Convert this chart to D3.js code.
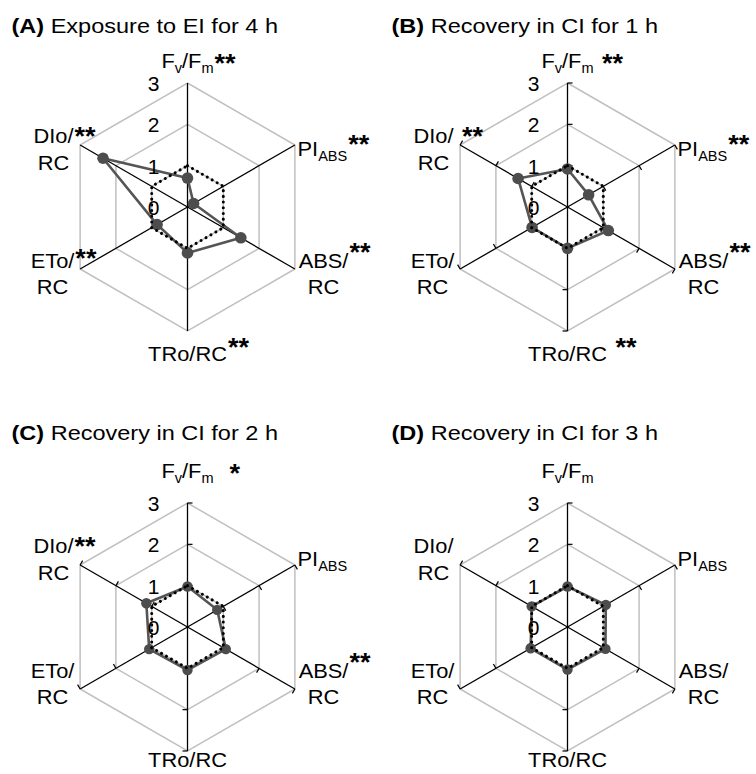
<!DOCTYPE html>
<html>
<head>
<meta charset="utf-8">
<script src="https://cdn.jsdelivr.net/npm/d3@7"></script>
<style>
  body { margin: 0; background: #fff; }
  svg { display: block; }
  text { font-family: "Liberation Sans", Arial, Helvetica, sans-serif; fill: #000; white-space: pre; }
</style>
</head>
<body>
<svg id="chart" width="756" height="774"></svg>
<script>
// Spokes of every radar, clockwise from the top ("_x" marks a subscript)
const axisLabels = [["F_v/F_m"], ["PI_ABS"], ["ABS/", "RC"], ["TRo/RC"], ["ETo/", "RC"], ["DIo/", "RC"]];

const panelLetters = ["(A)", "(B)", "(C)", "(D)"];
const panelTitles = ["Exposure to EI for 4 h", "Recovery in CI for 1 h", "Recovery in CI for 2 h", "Recovery in CI for 3 h"];

// Treated leaves, relative to control (= 1)
const treatedA = [0.70, 0.17, 1.49, 1.11, 0.85, 2.36];
const treatedB = [0.92, 0.59, 1.14, 1.00, 0.99, 1.38];
const treatedC = [0.98, 0.83, 1.07, 1.04, 1.07, 1.15];
const treatedD = [0.98, 1.07, 1.06, 1.03, 1.03, 1.00];
const controlValues = [1, 1, 1, 1, 1, 1];

// Significance marks per spoke
const sigA = ["**", "**", "**", "**", "**", "**"];
const sigB = [" **", "**", "**", " **", "", " **"];
const sigC = ["  *", "", "**", "", "", "**"];
const sigD = ["", "", "", "", "", ""];

const tickValues = [0, 1, 2, 3];

// ---------------------------------------------------------------
const panels = [
  { letter: panelLetters[0], title: panelTitles[0], values: treatedA, sig: sigA, cx: 187.5, cy: 207, row: 0, ticks: false },
  { letter: panelLetters[1], title: panelTitles[1], values: treatedB, sig: sigB, cx: 567.5, cy: 207, row: 0, ticks: true },
  { letter: panelLetters[2], title: panelTitles[2], values: treatedC, sig: sigC, cx: 187.5, cy: 627, row: 1, ticks: true },
  { letter: panelLetters[3], title: panelTitles[3], values: treatedD, sig: sigD, cx: 567.5, cy: 627, row: 1, ticks: true }
];

const R = 124;
const rScale = d3.scaleLinear().domain([0, 3]).range([0, R]);
const aScale = d3.scaleLinear().domain([0, axisLabels.length]).range([0, 2 * Math.PI]);

const radial = d3.lineRadial()
  .angle((d, i) => aScale(i))
  .radius(d => rScale(d))
  .curve(d3.curveLinearClosed);

const FONT = 21, SUB = 14, STX = 1.04;

// label anchor offsets from the centre (upper row); lower row is lifted a little
const labelLayout = [
  { x: 0,    y: [-139],     anchor: "middle", starDy: -2,  lift: [0, -10] },
  { x: 110,  y: [-51],      anchor: "start",  starDy: -9,  lift: [0, -10] },
  { x: 136,  y: [61, 87],   anchor: "middle", starDy: -13, lift: [0, -10] },
  { x: 0,    y: [154],      anchor: "middle", starDy: -11, lift: [0, -14] },
  { x: -135, y: [61, 87],   anchor: "middle", starDy: -7,  lift: [0, -10] },
  { x: -134, y: [-64, -37], anchor: "middle", starDy: -4,  lift: [0, -10] }
];

const svg = d3.select("#chart");

function addRich(textSel, str) {
  // split "F_v/F_m" into normal and subscript runs
  const parts = str.split(/(_[A-Za-z]+)/).filter(s => s.length);
  let lowered = false;
  parts.forEach(p => {
    if (p[0] === "_") {
      textSel.append("tspan").attr("font-size", SUB).attr("dy", lowered ? 0 : 5).text(p.slice(1));
      lowered = true;
    } else {
      textSel.append("tspan").attr("dy", lowered ? -5 : 0).text(p);
      lowered = false;
    }
  });
}

panels.forEach(p => {
  const g = svg.append("g").attr("transform", `translate(${p.cx},${p.cy})`);

  // title
  const tg = g.append("g").attr("transform", `translate(-176,${p.row ? -187 : -174}) scale(1.12,1)`);
  const tt = tg.append("text").attr("font-size", 21);
  tt.append("tspan").attr("font-weight", "bold").text(p.letter);
  tt.append("tspan").text(" " + p.title);

  // grey hexagon grid
  g.selectAll("path.grid").data(tickValues.filter(v => v > 0)).join("path")
    .attr("class", "grid")
    .attr("d", v => radial(axisLabels.map(() => v)))
    .attr("fill", "none").attr("stroke", "#c0c0c0").attr("stroke-width", 1.5);

  // spokes
  axisLabels.forEach((_, i) => {
    const a = aScale(i), rr = rScale(3);
    g.append("line")
      .attr("x1", 0).attr("y1", 0)
      .attr("x2", rr * Math.sin(a)).attr("y2", -rr * Math.cos(a))
      .attr("stroke", "#000").attr("stroke-width", 1.3);
    if (p.ticks) {
      tickValues.filter(v => v > 0).forEach(v => {
        const px = rScale(v) * Math.sin(a), py = -rScale(v) * Math.cos(a);
        g.append("line")
          .attr("x1", px).attr("y1", py)
          .attr("x2", px + 5 * Math.cos(a)).attr("y2", py + 5 * Math.sin(a))
          .attr("stroke", "#000").attr("stroke-width", 1.2);
      });
    }
  });

  // treated series
  g.append("path")
    .attr("d", radial(p.values))
    .attr("fill", "none").attr("stroke", "#555").attr("stroke-width", 2.6)
    .attr("stroke-linejoin", "round");
  g.selectAll("circle.pt").data(p.values).join("circle")
    .attr("class", "pt")
    .attr("cx", (d, i) => rScale(d) * Math.sin(aScale(i)))
    .attr("cy", (d, i) => -rScale(d) * Math.cos(aScale(i)))
    .attr("r", p.row ? 5.2 : 5.8)
    .attr("fill", "#4d4d4d");

  // control series (dotted)
  g.append("path")
    .attr("d", radial(controlValues))
    .attr("fill", "none").attr("stroke", "#000").attr("stroke-width", 3)
    .attr("stroke-linecap", "round").attr("stroke-dasharray", "0.1 5.6");

  // value labels on the vertical spoke
  g.selectAll("text.tick").data(tickValues).join("text")
    .attr("class", "tick")
    .attr("x", -28).attr("y", v => -rScale(v) + 8)
    .attr("text-anchor", "end").attr("font-size", 21)
    .text(v => v);

  // spoke labels
  axisLabels.forEach((lines, i) => {
    const L = labelLayout[i];
    const lift = L.lift[p.row];
    const lg = g.append("g").attr("transform", `translate(${L.x},0) scale(${STX},1)`);
    let firstLen = 0;
    lines.forEach((s, k) => {
      const t = lg.append("text")
        .attr("x", 0).attr("y", L.y[k] + lift)
        .attr("font-size", FONT)
        .attr("text-anchor", L.anchor);
      addRich(t, s);
      if (k === 0) firstLen = t.node().getComputedTextLength();
    });
    const mark = p.sig[i];
    if (mark) {
      const x0 = L.anchor === "middle" ? firstLen / 2 : firstLen;
      lg.append("text")
        .attr("x", x0 + 1).attr("y", L.y[0] + lift + L.starDy + 6)
        .attr("font-size", 26).attr("font-weight", "bold")
        .text(mark);
    }
  });
});
</script>
</body>
</html>
